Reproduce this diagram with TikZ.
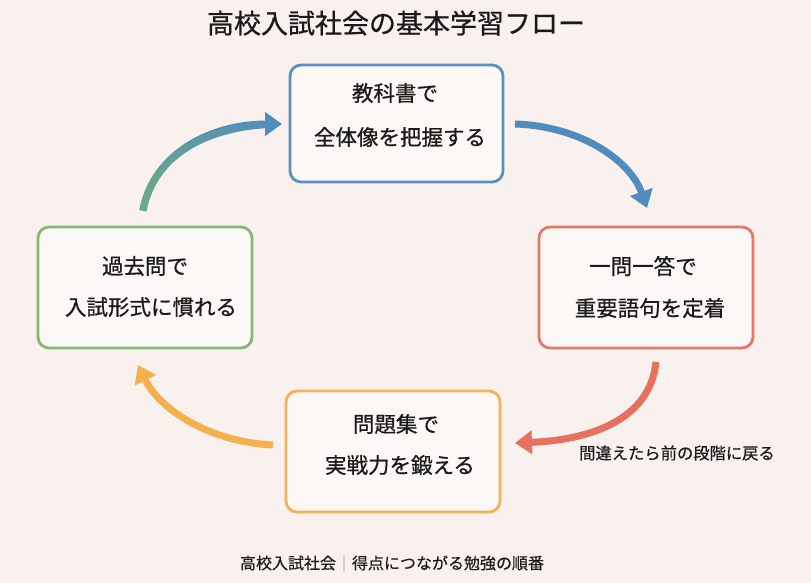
\documentclass[tikz,border=0pt]{standalone}
\usepackage{fontspec}
\setmainfont{Noto Sans CJK JP}
\newfontfamily\medfont[FakeBold=0.7]{Noto Sans CJK JP}
\newfontfamily\lightmed[FakeBold=0.4]{Noto Sans CJK JP}
\usetikzlibrary{arrows.meta,decorations.markings}
\definecolor{bgc}{HTML}{F8F1EE}
\definecolor{boxfill}{HTML}{FCF8F5}
\definecolor{cblue}{HTML}{5B90C0}
\definecolor{cred}{HTML}{E5776A}
\definecolor{corange}{HTML}{F3B257}
\definecolor{cgreen}{HTML}{86B873}
\definecolor{ablue}{HTML}{508CBE}
\definecolor{ared}{HTML}{E8705F}
\definecolor{aorange}{HTML}{F2B04F}
\definecolor{agreen}{HTML}{6CAA87}
\definecolor{txt}{HTML}{1A1A1A}
\tikzset{
  stagebox/.style={draw=#1, fill=boxfill, line width=2.8pt, rounded corners=11pt, inner sep=0pt},
  stagetext/.style={text=txt, font=\medfont\fontsize{21.5}{21.5}\selectfont, inner sep=0pt, anchor=center},
  flowarrow/.style={draw=#1, line width=7pt, -{Triangle[width=23pt,length=17pt]}},
}
\begin{document}
\begin{tikzpicture}[x=1pt,y=-1pt]
\fill[bgc] (0,0) rectangle (811,583);
\useasboundingbox (0,0) rectangle (811,583);

% title
\node[text=txt, font=\medfont\fontsize{27}{27}\selectfont, inner sep=0pt] (title) at (396,23) {高校入試社会の基本学習フロー};

% boxes
\node[stagebox=cblue, minimum width=213pt, minimum height=117pt] (b1) at (396.5,123.5) {};
\node[stagebox=cred, minimum width=214pt, minimum height=121pt] (b2) at (646,287.5) {};
\node[stagebox=corange, minimum width=214pt, minimum height=121pt] (b3) at (393,451.5) {};
\node[stagebox=cgreen, minimum width=214pt, minimum height=121pt] (b4) at (145,287.5) {};

% texts
\node[stagetext] (t1a) at (395,93) {教科書で};
\node[stagetext] (t1b) at (400,137) {全体像を把握する};
\node[stagetext] (t2a) at (643,266) {一問一答で};
\node[stagetext] (t2b) at (650,308) {重要語句を定着};
\node[stagetext] (t3a) at (396,424) {問題集で};
\node[stagetext] (t3b) at (400,465) {実戦力を鍛える};
\node[stagetext] (t4a) at (145,266) {過去問で};
\node[stagetext] (t4b) at (151,307) {入試形式に慣れる};

% arrow endpoints
\coordinate (a1s) at (143,210);
\coordinate (a1e) at (282,124);
\coordinate (a2s) at (515,124);
\coordinate (a2e) at (647,208);
\coordinate (a3s) at (656,362);
\coordinate (a3e) at (515,443);
\coordinate (a4s) at (273,445);
\coordinate (a4e) at (138,365);

% arrow 1 (green -> blue gradient)
\draw[flowarrow=ablue] (a1s) .. controls (155,150) and (215,124) .. (a1e);
\path[decorate, decoration={markings,
  mark=between positions 0 and -16pt step 1pt with {
    \pgfmathsetmacro\pc{100*\pgfkeysvalueof{/pgf/decoration/mark info/distance from start}/\pgfdecoratedpathlength}
    \colorlet{mixc}{ablue!\pc!agreen}
    \draw[mixc, line width=7pt] (-0.8pt,0pt) -- (0.8pt,0pt);
  }}] (a1s) .. controls (155,150) and (215,124) .. (a1e);

% arrow 2
\draw[flowarrow=ablue] (a2s) .. controls (580,126) and (630,160) .. (a2e);
% arrow 3
\draw[flowarrow=ared] (a3s) .. controls (650,420) and (590,440) .. (a3e);
% arrow 4
\draw[flowarrow=aorange] (a4s) .. controls (210,442) and (160,410) .. (a4e);

% note
\node[text=txt, font=\lightmed\fontsize{16.3}{16.3}\selectfont, inner sep=0pt] (note) at (677,453) {間違えたら前の段階に戻る};

% footer
\node[text=txt, font=\lightmed\fontsize{16}{16}\selectfont, inner sep=0pt] (footer) at (392,563) {高校入試社会\textcolor{gray!70}{｜}得点につながる勉強の順番};
\end{tikzpicture}
\end{document}
